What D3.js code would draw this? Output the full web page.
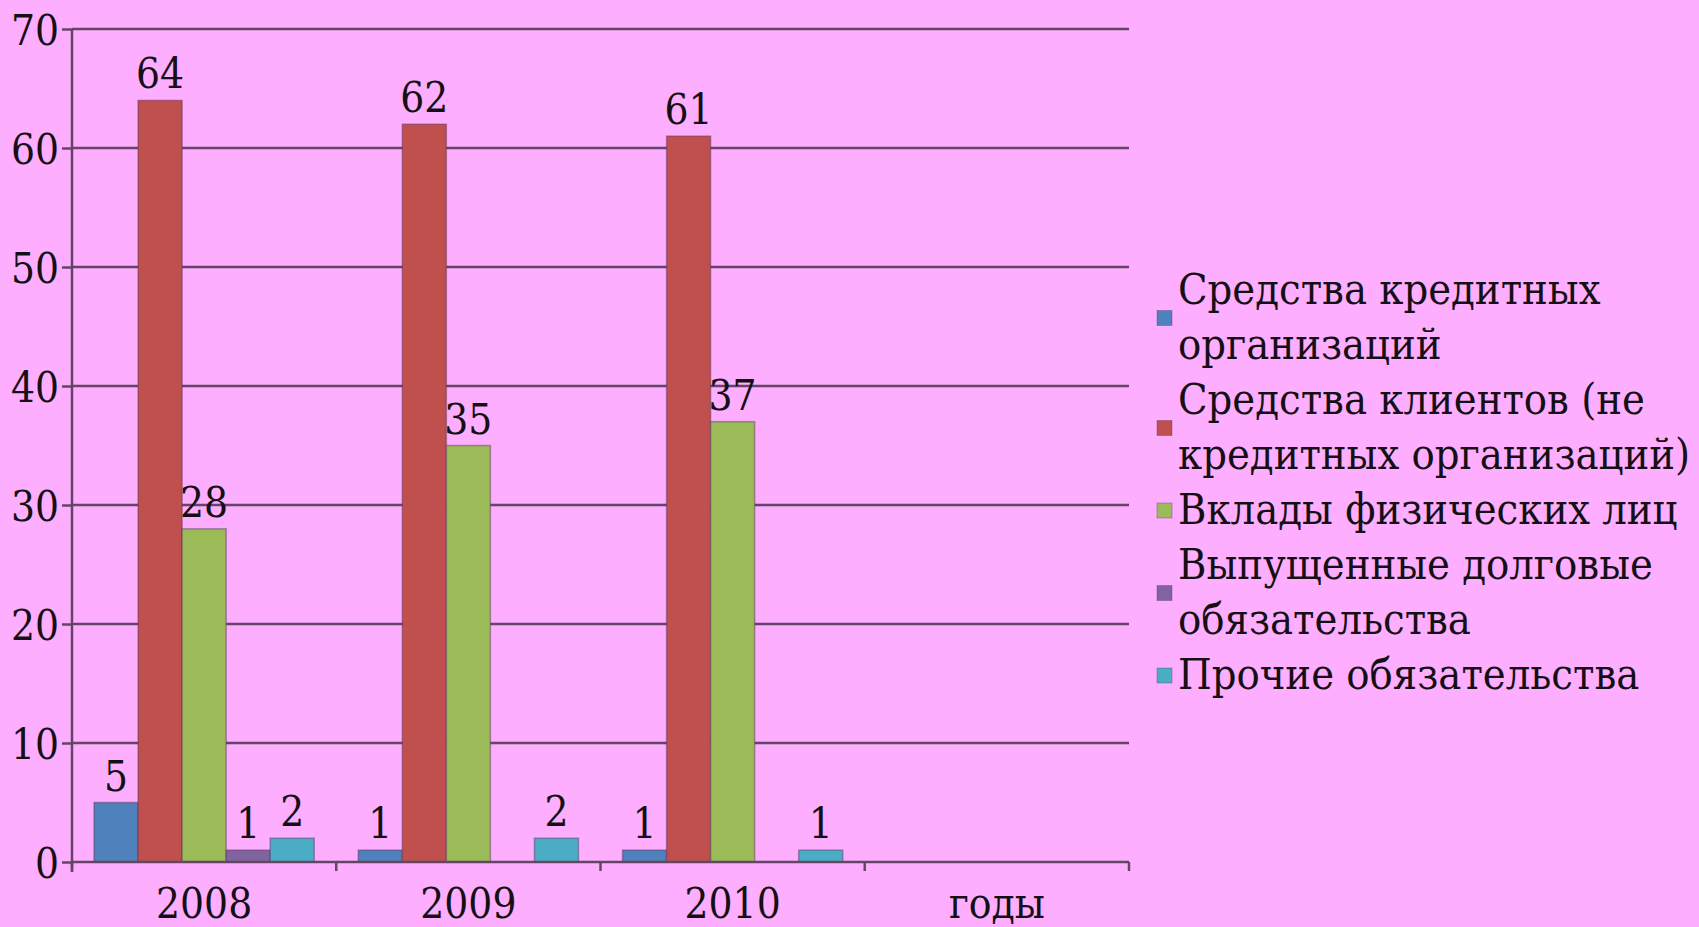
<!DOCTYPE html>
<html>
<head>
<meta charset="utf-8">
<script src="https://cdn.jsdelivr.net/npm/d3@7"></script>
<style>
  html, body { margin: 0; padding: 0; background: #feaefe; }
  svg { display: block; }
  svg text { font-family: "DejaVu Serif Condensed", "DejaVu Serif", serif; font-stretch: condensed; }
</style>
</head>
<body>
<script>
const w = 1699; // SVG width
const h = 927;  // SVG height

// data
const categories = ["2008", "2009", "2010", "годы"];
const seriesNames = [
  "Средства кредитных организаций",
  "Средства клиентов (не кредитных организаций)",
  "Вклады физических лиц",
  "Выпущенные долговые обязательства",
  "Прочие обязательства"
];
const legendLines = [
  ["Средства кредитных", "организаций"],
  ["Средства клиентов (не", "кредитных организаций)"],
  ["Вклады физических лиц"],
  ["Выпущенные долговые", "обязательства"],
  ["Прочие обязательства"]
];
const creditOrgs = [5, 1, 1, null];
const clients = [64, 62, 61, null];
const deposits = [28, 35, 37, null];
const debtIssued = [1, null, null, null];
const otherLiab = [2, 2, 1, null];
const yTicks = [0, 10, 20, 30, 40, 50, 60, 70];
const colors = ["#4f81bd", "#c0504d", "#9bbb59", "#8064a2", "#4bacc6"];

const seriesValues = [creditOrgs, clients, deposits, debtIssued, otherLiab];

const plotLeft = 72, plotRight = 1129, plotTop = 29, plotBottom = 862;
const fs = 42;

const svg = d3.select("body")
  .append("svg")
  .attr("width", w)
  .attr("height", h);

const xScale = d3.scaleBand()
  .domain(categories)
  .range([plotLeft, plotRight])
  .padding(0);

const x1 = d3.scaleBand()
  .domain(d3.range(seriesNames.length))
  .range([0, xScale.bandwidth()])
  .paddingInner(0)
  .paddingOuter(0.5);

const yScale = d3.scaleLinear()
  .domain([0, 70])
  .range([plotBottom, plotTop]);

//grid lines
svg.append("g")
  .selectAll("line")
  .data(yTicks.filter(d => d > 0))
  .enter()
  .append("line")
  .attr("x1", plotLeft)
  .attr("x2", plotRight)
  .attr("y1", d => yScale(d))
  .attr("y2", d => yScale(d))
  .attr("stroke", "#664466")
  .attr("stroke-width", 2.5);

//y axis
const yAxis = d3.axisLeft(yScale).tickValues(yTicks).tickSize(10).tickPadding(3);
const gy = svg.append("g")
  .attr("transform", "translate(" + plotLeft + ",0)")
  .call(yAxis);
gy.select(".domain").attr("stroke", "#664466").attr("stroke-width", 2.5)
  .attr("d", "M0," + plotTop + "V" + (plotBottom + 10));
gy.selectAll(".tick line").attr("stroke", "#664466").attr("stroke-width", 2.5);
gy.selectAll(".tick text")
  .attr("font-size", fs)
  .attr("fill", "#151015")
  .attr("dy", "0.36em");

//bars
const groups = svg.append("g")
  .selectAll("g")
  .data(categories)
  .enter()
  .append("g")
  .attr("transform", d => "translate(" + xScale(d) + ",0)");

groups.selectAll("rect")
  .data((c, ci) => seriesValues.map((s, si) => ({ si: si, v: s[ci] })).filter(d => d.v != null))
  .enter()
  .append("rect")
  .attr("x", d => x1(d.si))
  .attr("y", d => yScale(d.v))
  .attr("width", x1.bandwidth())
  .attr("height", d => plotBottom - yScale(d.v))
  .attr("fill", d => colors[d.si])
  .attr("stroke", "rgba(90,50,90,0.45)")
  .attr("stroke-width", 1.5);

groups.selectAll("text")
  .data((c, ci) => seriesValues.map((s, si) => ({ si: si, v: s[ci] })).filter(d => d.v != null))
  .enter()
  .append("text")
  .attr("x", d => x1(d.si) + x1.bandwidth() / 2)
  .attr("y", d => yScale(d.v) - 12)
  .attr("text-anchor", "middle")
  .attr("font-size", fs)
  .attr("fill", "#151015")
  .text(d => d.v);

//x axis
const gx = svg.append("g");
gx.append("line")
  .attr("x1", plotLeft).attr("x2", plotRight)
  .attr("y1", plotBottom).attr("y2", plotBottom)
  .attr("stroke", "#664466")
  .attr("stroke-width", 2.5);
gx.selectAll(".xtick")
  .data(categories.concat([null]))
  .enter()
  .append("line")
  .attr("x1", d => d == null ? plotRight : xScale(d))
  .attr("x2", d => d == null ? plotRight : xScale(d))
  .attr("y1", plotBottom)
  .attr("y2", plotBottom + 9)
  .attr("stroke", "#664466")
  .attr("stroke-width", 2.5);
gx.selectAll("text")
  .data(categories)
  .enter()
  .append("text")
  .attr("x", d => xScale(d) + xScale.bandwidth() / 2)
  .attr("y", 918)
  .attr("text-anchor", "middle")
  .attr("font-size", fs)
  .attr("fill", "#151015")
  .text(d => d);

//legend
const legend = svg.append("g").attr("transform", "translate(1157,0)");
let line = 0;
legendLines.forEach((lines, i) => {
  const y0 = 304 + line * 55;
  const mid = y0 - 14 + (lines.length - 1) * 55 / 2;
  legend.append("rect")
    .attr("x", 0)
    .attr("y", mid - 7)
    .attr("width", 15)
    .attr("height", 15)
    .attr("fill", colors[i])
    .attr("stroke", "rgba(90,50,90,0.35)");
  lines.forEach((t, j) => {
    legend.append("text")
      .attr("x", 21)
      .attr("y", y0 + j * 55)
      .attr("font-size", 43)
      .attr("fill", "#151015")
      .text(t);
  });
  line += lines.length;
});
</script>
</body>
</html>
